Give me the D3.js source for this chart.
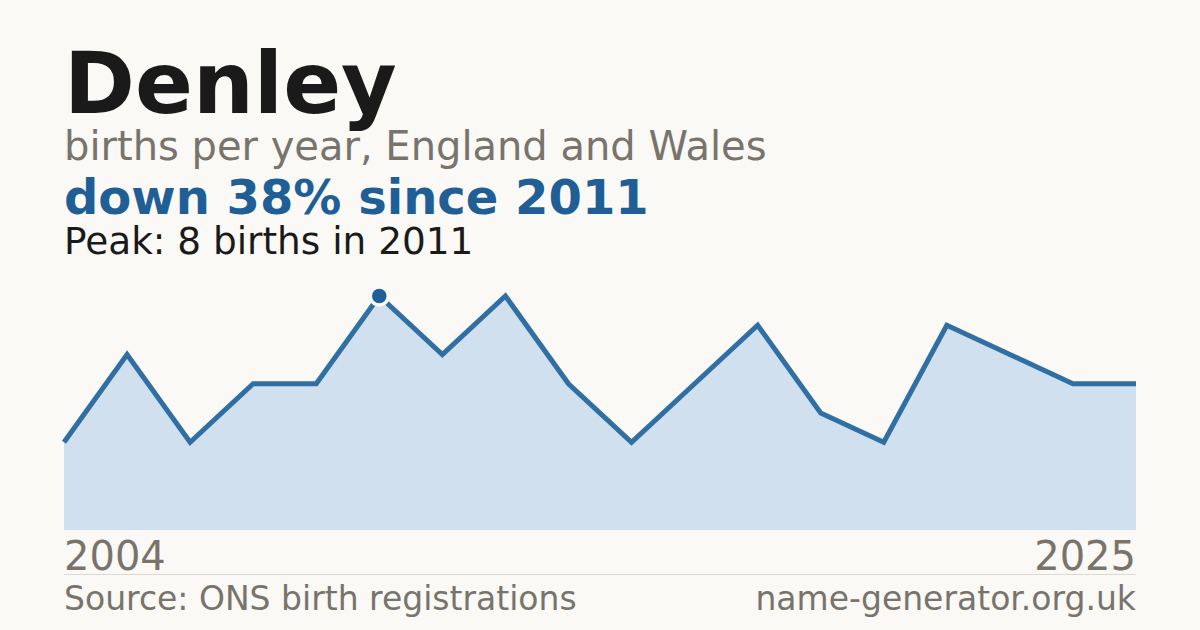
<!DOCTYPE html>
<html>
<head>
<meta charset="utf-8">
<script src="https://cdnjs.cloudflare.com/ajax/libs/d3/7.8.5/d3.min.js"></script>
<style>
  html, body { margin: 0; padding: 0; background: #faf9f5; }
  svg { display: block; font-family: "DejaVu Sans", sans-serif; }
</style>
</head>
<body>
<div id="chart"></div>
<script>
// years with registrations (index based on x axis)
const years = [2004, 2005, 2006, 2008, 2009, 2011, 2012, 2013, 2014, 2016,
  2017, 2018, 2019, 2020, 2022, 2023, 2024, 2025];
const births = [3, 6, 3, 5, 5, 8, 6, 8, 5, 3, 5, 7, 4, 3, 7, 6, 5, 5];
const axisLabels = ["2004", "2025"];

const width = 1200, height = 630;
const margin = { left: 64, right: 64 };
const plotTop = 296, plotBottom = 530;

const svg = d3.select("#chart")
  .append("svg")
  .attr("width", width)
  .attr("height", height);

svg.append("rect")
  .attr("width", width)
  .attr("height", height)
  .attr("fill", "#faf9f5");

const x = d3.scalePoint()
  .domain(d3.range(births.length))
  .range([margin.left, width - margin.right]);

const y = d3.scaleLinear()
  .domain([0, d3.max(births)])
  .range([plotBottom, plotTop]);

// area under the line
const area = d3.area()
  .x((d, i) => x(i))
  .y0(plotBottom)
  .y1(d => y(d));

svg.append("path")
  .datum(births)
  .attr("d", area)
  .attr("fill", "#d0e0ef");

const line = d3.line()
  .x((d, i) => x(i))
  .y(d => y(d));

svg.append("path")
  .datum(births)
  .attr("d", line)
  .attr("fill", "none")
  .attr("stroke", "#306fa3")
  .attr("stroke-width", 5)
  .attr("stroke-linejoin", "miter");

// peak marker
const peak = d3.max(births);
const peakIdx = births.indexOf(peak);
svg.append("circle")
  .attr("cx", x(peakIdx))
  .attr("cy", y(peak))
  .attr("r", 9)
  .attr("fill", "#1f5f96")
  .attr("stroke", "#faf9f5")
  .attr("stroke-width", 3.5);

// titles
svg.append("text")
  .attr("x", 64).attr("y", 113)
  .style("font-size", "85.5px")
  .style("font-weight", "bold")
  .attr("fill", "#1a1a1a")
  .text("Denley");

svg.append("text")
  .attr("x", 64).attr("y", 160)
  .style("font-size", "40px")
  .attr("fill", "#78746c")
  .text("births per year, England and Wales");

const change = Math.round((1 - births[births.length - 1] / peak) * 100);
svg.append("text")
  .attr("x", 64).attr("y", 214)
  .style("font-size", "48px")
  .style("font-weight", "bold")
  .attr("fill", "#1f5f96")
  .text(`down ${change}% since ${years[peakIdx]}`);

svg.append("text")
  .attr("x", 64).attr("y", 254)
  .style("font-size", "37.4px")
  .attr("fill", "#1a1a1a")
  .text(`Peak: ${peak} births in ${years[peakIdx]}`);

// year labels
svg.append("text")
  .attr("x", x(0)).attr("y", 570)
  .style("font-size", "40px")
  .attr("fill", "#78746c")
  .text(axisLabels[0]);

svg.append("text")
  .attr("x", x(births.length - 1)).attr("y", 570)
  .attr("text-anchor", "end")
  .style("font-size", "40px")
  .attr("fill", "#78746c")
  .text(axisLabels[1]);

// footer rule
svg.append("line")
  .attr("x1", margin.left).attr("x2", width - margin.right)
  .attr("y1", 574.5).attr("y2", 574.5)
  .attr("stroke", "#ddd8d0")
  .attr("stroke-width", 1);

svg.append("text")
  .attr("x", 64).attr("y", 610)
  .style("font-size", "33px")
  .attr("fill", "#78746c")
  .text("Source: ONS birth registrations");

svg.append("text")
  .attr("x", width - margin.right).attr("y", 610)
  .attr("text-anchor", "end")
  .style("font-size", "33px")
  .attr("fill", "#78746c")
  .text("name-generator.org.uk");
</script>
</body>
</html>
